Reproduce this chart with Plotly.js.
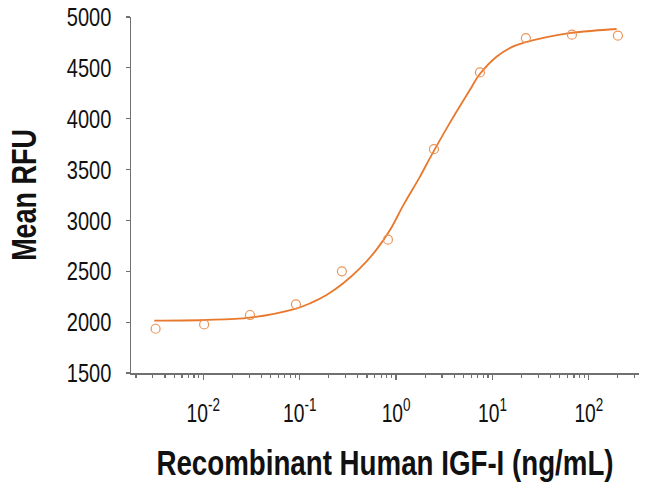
<!DOCTYPE html>
<html>
<head>
<meta charset="utf-8">
<script src="https://cdn.plot.ly/plotly-3.0.1.min.js"></script>
<style>
html,body{margin:0;padding:0;background:#fff;}
#chart{width:650px;height:495px;}
</style>
</head>
<body>
<div id="chart"></div>
<script>
// Measured points: concentration (ng/mL) and Mean RFU
const concentration = [0.0032, 0.0102, 0.0305, 0.0914, 0.274, 0.823, 2.47, 7.41, 22.2, 66.7, 200];
const meanRFU = [1935, 1978, 2070, 2175, 2500, 2811, 3701, 4455, 4793, 4826, 4816];

// Fitted curve
const curveX = [0.0031, 0.0102, 0.0305, 0.0916, 0.128, 0.19, 0.283, 0.423, 0.629, 0.865, 1.19, 1.77, 2.34, 3.60, 5.84, 7.29, 11.1, 16.4, 21.7, 36.5, 65.2, 111, 194];
const curveY = [2014, 2021, 2045, 2134, 2185, 2267, 2382, 2530, 2715, 2905, 3150, 3431, 3645, 3957, 4284, 4432, 4612, 4711, 4750, 4803, 4843, 4865, 4882];

const xTickVals = [0.01, 0.1, 1, 10, 100];
const xTickText = ["10<sup>-2</sup>", "10<sup>-1</sup>", "10<sup>0</sup>", "10<sup>1</sup>", "10<sup>2</sup>"];
const yTickVals = [1500, 2000, 2500, 3000, 3500, 4000, 4500, 5000];

const orange = "#E8782C";
const axisColor = "#707070";
const fontFam = "'Liberation Sans', Arial, sans-serif";
const narrow = 0.77;

const traces = [
  {
    x: curveX, y: curveY, type: "scatter", mode: "lines",
    line: {color: orange, width: 1.8, shape: "spline", smoothing: 1},
    hoverinfo: "skip", showlegend: false
  },
  {
    x: concentration, y: meanRFU, type: "scatter", mode: "markers",
    marker: {symbol: "circle-open", size: 9, color: "#EC955A", line: {color: "#EC955A", width: 1.2}},
    showlegend: false
  }
];

const layout = {
  width: 650, height: 495,
  margin: {l: 131, r: 11, t: 17, b: 122},
  paper_bgcolor: "#fff", plot_bgcolor: "#fff",
  font: {family: fontFam, color: "#111"},
  showlegend: false,
  xaxis: {
    type: "log",
    range: [-2.75, 2.52],
    tickvals: xTickVals, ticktext: xTickText,
    ticks: "outside", ticklen: 5, tickwidth: 1.2, tickcolor: axisColor,
    minor: {ticks: "outside", ticklen: 3, tickwidth: 1.2, tickcolor: axisColor, dtick: "D1", showgrid: false},
    showline: true, linecolor: axisColor, linewidth: 1.8,
    showgrid: false, zeroline: false,
    tickfont: {family: fontFam, size: 25, color: "#111"},
    ticklabelstandoff: 12,
    title: {text: "Recombinant Human IGF-I (ng/mL)", font: {family: fontFam, size: 36, color: "#111", weight: "bold"}, standoff: 24}
  },
  yaxis: {
    range: [1500, 5000],
    tickvals: yTickVals,
    ticks: "outside", ticklen: 4, tickwidth: 1.2, tickcolor: axisColor,
    showline: true, linecolor: axisColor, linewidth: 1.5,
    showgrid: false, zeroline: false,
    tickfont: {family: fontFam, size: 26, color: "#111"},
    ticklabelstandoff: 9,
    title: {text: "Mean RFU", font: {family: fontFam, size: 35, color: "#111", weight: "bold"}, standoff: 6}
  }
};

function condense(gd, s) {
  gd.querySelectorAll("svg text").forEach(function (t) {
    const x = parseFloat(t.getAttribute("x")) || 0;
    const tr = t.getAttribute("transform") || "";
    t.setAttribute("transform", tr + " translate(" + x + ",0) scale(" + s + ",1) translate(" + (-x) + ",0)");
  });
}

Plotly.newPlot("chart", traces, layout, {staticPlot: true, displayModeBar: false}).then(function (gd) {
  condense(gd, narrow);
});
</script>
</body>
</html>
